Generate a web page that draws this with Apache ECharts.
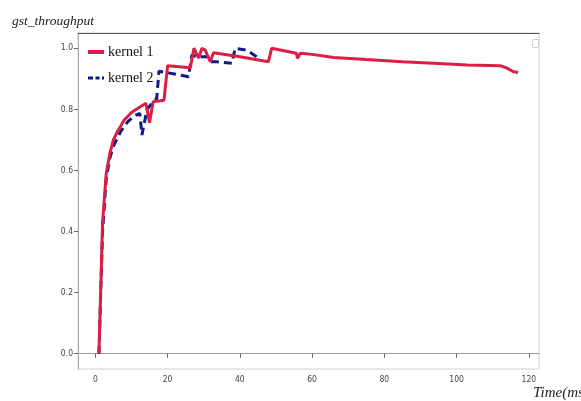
<!DOCTYPE html>
<html>
<head>
<meta charset="utf-8">
<script src="https://cdn.jsdelivr.net/npm/echarts@6/dist/echarts.min.js"></script>
<style>
html,body{margin:0;padding:0;background:#fff;}
#c{width:581px;height:401px;}
</style>
</head>
<body>
<div id="c"></div>
<script>
const xTicks = [0, 20, 40, 60, 80, 100, 120];
const yTicks = [0, 0.2, 0.4, 0.6, 0.8, 1.0];

const k1X = [1, 2, 3, 4, 5, 6, 8, 10, 12, 14, 15, 16, 19, 20, 26.3, 27.3, 28.6, 29.5, 30.4, 31.8, 32.7, 40, 47.9, 48.8, 55.6, 56, 56.7, 60, 66, 75, 85, 95, 103, 112, 113.8, 115.6, 117];
const k1Y = [0.0, 0.43, 0.59, 0.655, 0.70, 0.725, 0.765, 0.79, 0.805, 0.82, 0.756, 0.825, 0.83, 0.943, 0.936, 1.0, 0.968, 1.0, 0.994, 0.956, 0.985, 0.972, 0.956, 1.0, 0.984, 0.967, 0.984, 0.98, 0.97, 0.963, 0.956, 0.95, 0.945, 0.943, 0.936, 0.924, 0.921];

const k2X = [1, 2, 3, 4, 5, 7, 9, 11, 12.3, 12.9, 14.3, 15.7, 17, 17.6, 25.8, 26.7, 28, 31, 31.8, 33.6, 37.8, 38.7, 41.9, 44.7];
const k2Y = [0.0, 0.40, 0.57, 0.64, 0.68, 0.727, 0.76, 0.78, 0.787, 0.716, 0.80, 0.82, 0.836, 0.925, 0.907, 0.978, 0.972, 0.972, 0.956, 0.956, 0.951, 1.0, 0.994, 0.972];

const seriesNames = ['kernel 1', 'kernel 2'];

const chart = echarts.init(document.getElementById('c'), null, {renderer: 'canvas'});
const serif = '"Liberation Serif", "DejaVu Serif", serif';
const sans = '"Liberation Sans Narrow", "DejaVu Sans Condensed", "Liberation Sans", sans-serif';
const red = '#dc1e42';
const blue = '#0c1a8a';

chart.setOption({
  animation: false,
  backgroundColor: '#fff',
  grid: {left: 78, right: 42, top: 33, bottom: 32, show: true, borderColor: '#d0d0d0', borderWidth: 1},
  xAxis: [{
    type: 'value', min: -4.8, max: 122.8,
    axisLine: {show: true, lineStyle: {color: '#999', width: 1}},
    axisTick: {show: true, length: 4, inside: false, customValues: xTicks, lineStyle: {color: '#666'}},
    axisLabel: {customValues: xTicks, color: '#444', fontSize: 8.5, fontFamily: sans, margin: 6},
    splitLine: {show: false}
  }, {
    type: 'value', position: 'top', min: -4.8, max: 122.8,
    axisLine: {show: true, onZero: false, lineStyle: {color: '#555', width: 1}},
    axisTick: {show: false}, axisLabel: {show: false}, splitLine: {show: false}
  }],
  yAxis: {
    type: 'value', min: -0.05, max: 1.05,
    axisLine: {show: true, onZero: false, lineStyle: {color: '#aaa', width: 1}},
    axisTick: {show: true, length: 4, customValues: yTicks, lineStyle: {color: '#666'}},
    axisLabel: {customValues: yTicks, color: '#444', fontSize: 8.5, fontFamily: sans, margin: 5,
      formatter: v => v.toFixed(1)},
    splitLine: {show: false}
  },
  legend: {
    orient: 'vertical', left: 88, top: 45, padding: 0, itemWidth: 16, itemHeight: 4, itemGap: 12,
    textStyle: {fontFamily: serif, fontSize: 14, color: '#111', padding: [0, 0, 0, -1]},
    data: [
      {name: seriesNames[0], icon: 'rect'},
      {name: seriesNames[1], icon: 'path://M0,0h5v3h-5z M7.5,0h4v3h-4z M14,0h2v3h-2z'}
    ]
  },
  series: [{
    name: seriesNames[0], type: 'line', symbol: 'none', z: 3,
    data: k1X.map((x, i) => [x, k1Y[i]]),
    lineStyle: {color: red, width: 3},
    itemStyle: {color: red}
  }, {
    name: seriesNames[1], type: 'line', symbol: 'none', z: 2,
    data: k2X.map((x, i) => [x, k2Y[i]]),
    lineStyle: {color: blue, width: 3, type: [8, 5]},
    itemStyle: {color: blue}
  }],
  graphic: [
    {type: 'text', left: 12, top: 14, style: {text: 'gst_throughput', font: 'italic 13.5px ' + serif, fill: '#222'}},
    {type: 'text', left: 533, top: 386, style: {text: 'Time(ms)', font: 'italic 15px ' + serif, fill: '#222'}},
    {type: 'rect', left: 532, top: 39, shape: {width: 6, height: 8, r: 1}, style: {fill: '#fff', stroke: '#ccc', lineWidth: 1}}
  ]
});
</script>
</body>
</html>
